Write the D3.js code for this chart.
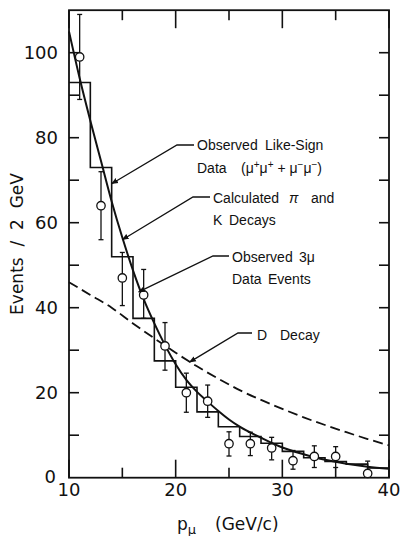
<!DOCTYPE html>
<html>
<head>
<meta charset="utf-8">
<script src="https://cdn.jsdelivr.net/npm/d3@7"></script>
<style>
  html, body { margin: 0; padding: 0; background: #fff; }
  svg { display: block; }
  text { fill: #111; }
</style>
</head>
<body>
<svg id="chart" width="401" height="536"></svg>
<script>
// ---- data ----
const histEdges = [10,12,14,16,18,20,22,24,26,28,30,32,34,36,38,40];
const histValues = [93,73,52,37.5,27.5,21.3,15.5,12,9.7,8.1,6.2,4.7,3.8,3.2,2.3];

const obsX   = [11,13,15,17,19,21,23,25,27,29,31,33,35,38];
const obsY   = [99,64,47,43,31,20,18,8,8,7,4,5,5,1];
const obsLo  = [89,56,40.5,37.5,25.3,15.4,14.2,5.1,5.2,4.2,2,2.4,2.4,0];
const obsHi  = [109,72,53,49,36.5,24.6,21.8,10.8,10.7,9.5,6.4,7.5,7.3,3.9];

const calcX = [10,11,12,13,14,15,16,17,18,19,20,21,22,23,24,25,26,28,30,32,34,36,38,40];
const calcY = [105,94,84,74.5,65,56.5,48.8,42,36.3,31.2,26.7,23,20.2,17.9,15.7,13.7,12,9.4,7.1,5.5,4.2,3.3,2.6,2.1];

const dX = [10,12,14,16,18,20,22,24,26,28,30,32,34,36,38,40];
const dY = [46,43,40,36.3,32.8,29.4,26.2,23.3,20.6,18.3,16.2,14.2,12.4,10.7,9.1,7.6];

const xTicksMajor = [10,20,30,40];
const xTicksMinor = [15,25,35];
const yTickLabels = [0,20,40,60,80,100];
const yTicksAll = [10,20,30,40,50,60,70,80,90,100];

// ---- layout ----
const svg = d3.select("#chart");
const x = d3.scaleLinear().domain([10,40]).range([69,389]);
const y = d3.scaleLinear().domain([0,110]).range([477.7,10.2]);
const X0 = x(10), X1 = x(40), Y0 = y(0), Y1 = y(110);

const g = svg.append("g");

// frame
g.append("rect").attr("x",X0).attr("y",Y1).attr("width",X1-X0).attr("height",Y0-Y1)
  .attr("fill","none").attr("stroke","#111").attr("stroke-width",1.8);

// x ticks (bottom & top), inward
function xt(v,len){
  g.append("line").attr("x1",x(v)).attr("x2",x(v)).attr("y1",Y0).attr("y2",Y0-len).attr("stroke","#111").attr("stroke-width",1.6);
  g.append("line").attr("x1",x(v)).attr("x2",x(v)).attr("y1",Y1).attr("y2",Y1+len).attr("stroke","#111").attr("stroke-width",1.6);
}
xTicksMajor.forEach(v=>xt(v,18));
xTicksMinor.forEach(v=>xt(v,10));
yTicksAll.forEach(v=>{
  g.append("line").attr("x1",X0).attr("x2",X0+10).attr("y1",y(v)).attr("y2",y(v)).attr("stroke","#111").attr("stroke-width",1.6);
  g.append("line").attr("x1",X1).attr("x2",X1-10).attr("y1",y(v)).attr("y2",y(v)).attr("stroke","#111").attr("stroke-width",1.6);
});

// tick labels
const tickFont = "DejaVu Sans";
xTicksMajor.forEach(v=>{
  g.append("text").attr("x",x(v)).attr("y",496).attr("text-anchor","middle")
    .attr("font-family",tickFont).attr("font-size",18).text(v);
});
yTickLabels.forEach(v=>{
  g.append("text").attr("x",v===0?56:58).attr("y",y(v)+6.5 - (v===0?1:0)).attr("text-anchor","end")
    .attr("font-family",tickFont).attr("font-size",18).text(v);
});

// axis titles
const xt1 = g.append("text").attr("x",177).attr("y",530).attr("font-family",tickFont).attr("font-size",17);
xt1.append("tspan").text("p");
xt1.append("tspan").attr("font-size",13).attr("dy",4).text("μ");
xt1.append("tspan").attr("x",215).attr("dy",-4).text("(GeV/c)");

g.append("text").attr("transform","translate(23,244) rotate(-90)").attr("text-anchor","middle")
  .attr("font-family",tickFont).attr("font-size",17).attr("xml:space","preserve").style("white-space","pre")
  .text("Events  /  2  GeV");

// histogram (calculated like-sign steps)
let hp = d3.path();
hp.moveTo(x(histEdges[0]), y(histValues[0]));
histValues.forEach((v,i)=>{
  if(i>0) hp.lineTo(x(histEdges[i]), y(v));
  hp.lineTo(x(histEdges[i+1]), y(v));
});
g.append("path").attr("d",hp.toString()).attr("fill","none").attr("stroke","#111").attr("stroke-width",1.6);

// calculated pi/K curve
const line = d3.line().x(d=>x(d[0])).y(d=>y(d[1])).curve(d3.curveMonotoneX);
g.append("path").attr("d",line(d3.zip(calcX,calcY))).attr("fill","none").attr("stroke","#111").attr("stroke-width",2);

// D decay dashed
g.append("path").attr("d",line(d3.zip(dX,dY))).attr("fill","none").attr("stroke","#111")
  .attr("stroke-width",1.8).attr("stroke-dasharray","10,5");

// data points with error bars
obsX.forEach((xv,i)=>{
  const cx = x(xv);
  g.append("line").attr("x1",cx).attr("x2",cx).attr("y1",y(obsLo[i])).attr("y2",y(obsHi[i])).attr("stroke","#111").attr("stroke-width",1.3);
  [obsLo[i],obsHi[i]].forEach(v=>{
    if(v>0) g.append("line").attr("x1",cx-2.5).attr("x2",cx+2.5).attr("y1",y(v)).attr("y2",y(v)).attr("stroke","#111").attr("stroke-width",1.3);
  });
  g.append("circle").attr("cx",cx).attr("cy",y(obsY[i])).attr("r",4.2).attr("fill","#fff").attr("stroke","#111").attr("stroke-width",1.3);
});

// annotations
svg.append("defs").append("marker").attr("id","arr").attr("viewBox","0 0 10 10").attr("refX",9).attr("refY",5)
  .attr("markerWidth",7).attr("markerHeight",7).attr("markerUnits","userSpaceOnUse").attr("orient","auto")
  .append("path").attr("d","M0,1 L10,5 L0,9 Z").attr("fill","#111");

function leader(pts){
  g.append("path").attr("d",d3.line()(pts)).attr("fill","none").attr("stroke","#111").attr("stroke-width",1.3)
    .attr("marker-end","url(#arr)");
}
const aFont = "Liberation Sans", aSize = 14;
function txt(xp, yp, s){
  return g.append("text").attr("x",xp).attr("y",yp).attr("font-family",aFont).attr("font-size",aSize).text(s);
}

// 1: Observed like-sign data -> histogram
leader([[194,145],[177,145],[x(14),y(72)+12]]);
const t1 = g.append("text").attr("y",150).attr("font-family",aFont).attr("font-size",aSize);
t1.append("tspan").attr("x",197).text("Observed");
t1.append("tspan").attr("x",265).text("Like-Sign");
const t2 = g.append("text").attr("y",173).attr("font-family",aFont).attr("font-size",aSize);
t2.append("tspan").attr("x",197).text("Data");
t2.append("tspan").attr("x",241).text("(μ");
t2.append("tspan").attr("font-size",10).attr("dy",-5).text("+");
t2.append("tspan").attr("font-size",aSize).attr("dy",5).text("μ");
t2.append("tspan").attr("font-size",10).attr("dy",-5).text("+");
t2.append("tspan").attr("font-size",aSize).attr("dy",5).text(" + μ");
t2.append("tspan").attr("font-size",10).attr("dy",-5).text("−");
t2.append("tspan").attr("font-size",aSize).attr("dy",5).text("μ");
t2.append("tspan").attr("font-size",10).attr("dy",-5).text("−");
t2.append("tspan").attr("font-size",aSize).attr("dy",5).text(")");

// 2: Calculated pi and K decays -> curve
leader([[210,197],[193,197],[x(15.0),y(56)]]);
const t3 = g.append("text").attr("y",203).attr("font-family",aFont).attr("font-size",aSize);
t3.append("tspan").attr("x",213).text("Calculated");
t3.append("tspan").attr("x",289).attr("font-style","italic").text("π");
t3.append("tspan").attr("x",311).text("and");
const t4 = g.append("text").attr("y",225).attr("font-family",aFont).attr("font-size",aSize);
t4.append("tspan").attr("x",213).text("K");
t4.append("tspan").attr("x",229).text("Decays");

// 3: Observed 3mu data events -> point at 17
leader([[229,256],[213,256],[x(17)-5,y(43)-3]]);
const t5 = g.append("text").attr("y",262).attr("font-family",aFont).attr("font-size",aSize);
t5.append("tspan").attr("x",232).text("Observed");
t5.append("tspan").attr("x",299).text("3μ");
const t6 = g.append("text").attr("y",284).attr("font-family",aFont).attr("font-size",aSize);
t6.append("tspan").attr("x",232).text("Data");
t6.append("tspan").attr("x",268).text("Events");

// 4: D decay -> dashed curve
leader([[252,333],[238,333],[x(21.3),y(27.2)]]);
const t7 = g.append("text").attr("y",340).attr("font-family",aFont).attr("font-size",aSize);
t7.append("tspan").attr("x",257).text("D");
t7.append("tspan").attr("x",280).text("Decay");
</script>
</body>
</html>
